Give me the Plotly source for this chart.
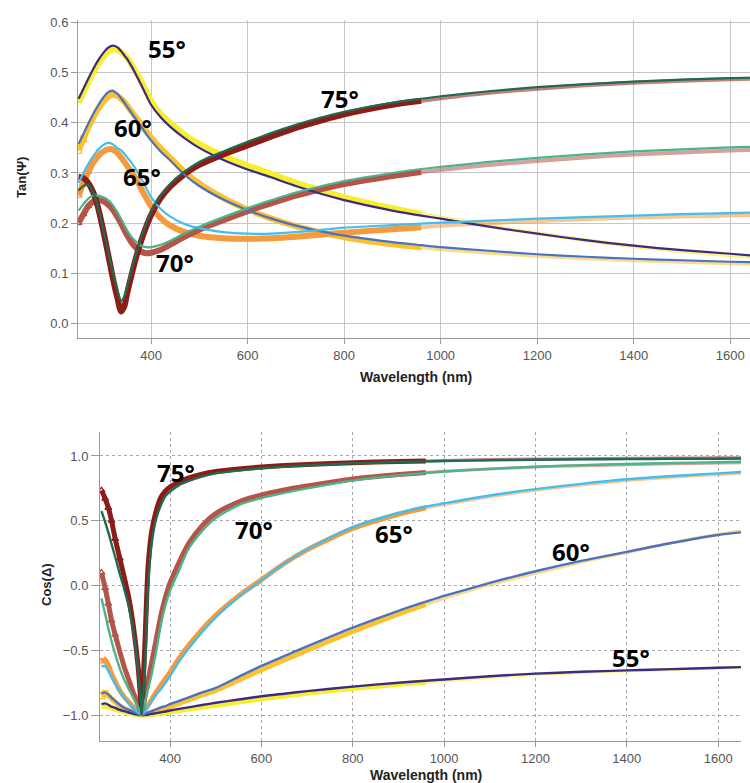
import plotly.graph_objects as go

# ---------------- data ----------------
WL_TAN = [250, 260, 270, 280, 290, 300, 310, 320, 330, 338, 345, 350, 360, 370, 380, 390, 400,
          420, 440, 470, 500, 550, 600, 650, 700, 750, 800, 900, 960, 1000, 1100, 1200, 1300,
          1400, 1500, 1600, 1650]

TAN_55_DATA = [0.440, 0.460, 0.480, 0.500, 0.516, 0.530, 0.541, 0.546, 0.546, 0.541, 0.535, 0.530,
               0.516, 0.500, 0.482, 0.463, 0.444, 0.418, 0.400, 0.376, 0.358, 0.334, 0.315, 0.298,
               0.281, 0.266, 0.252, 0.230, 0.219, 0.212, 0.195, 0.180, 0.166, 0.154, 0.144, 0.136, 0.133]
TAN_55_FIT = [0.448, 0.468, 0.488, 0.507, 0.524, 0.538, 0.549, 0.554, 0.551, 0.543, 0.534, 0.528,
              0.512, 0.494, 0.475, 0.455, 0.436, 0.411, 0.392, 0.369, 0.350, 0.326, 0.307, 0.291,
              0.274, 0.259, 0.246, 0.225, 0.215, 0.209, 0.193, 0.179, 0.166, 0.155, 0.146, 0.139, 0.135]
TAN_60_DATA = [0.345, 0.368, 0.390, 0.410, 0.427, 0.441, 0.451, 0.456, 0.454, 0.448, 0.441, 0.435,
               0.422, 0.409, 0.396, 0.383, 0.371, 0.349, 0.330, 0.302, 0.279, 0.250, 0.227, 0.209,
               0.194, 0.182, 0.172, 0.158, 0.152, 0.148, 0.141, 0.135, 0.130, 0.126, 0.123, 0.120, 0.119]
TAN_60_FIT = [0.358, 0.378, 0.398, 0.417, 0.434, 0.449, 0.460, 0.464, 0.458, 0.449, 0.440, 0.433,
              0.419, 0.405, 0.392, 0.378, 0.365, 0.343, 0.325, 0.296, 0.274, 0.247, 0.226, 0.209,
              0.195, 0.184, 0.175, 0.162, 0.156, 0.152, 0.145, 0.138, 0.133, 0.129, 0.126, 0.123, 0.122]
TAN_65_DATA = [0.255, 0.280, 0.302, 0.320, 0.333, 0.342, 0.347, 0.347, 0.340, 0.331, 0.322, 0.315,
               0.301, 0.286, 0.268, 0.250, 0.234, 0.210, 0.195, 0.182, 0.175, 0.170, 0.169, 0.170,
               0.173, 0.177, 0.181, 0.188, 0.192, 0.195, 0.200, 0.204, 0.208, 0.211, 0.213, 0.215, 0.216]
TAN_65_FIT = [0.280, 0.300, 0.318, 0.333, 0.346, 0.355, 0.360, 0.358, 0.350, 0.345, 0.338, 0.332,
              0.320, 0.305, 0.288, 0.270, 0.252, 0.228, 0.213, 0.198, 0.190, 0.182, 0.179, 0.179,
              0.182, 0.186, 0.191, 0.196, 0.199, 0.201, 0.205, 0.209, 0.212, 0.215, 0.218, 0.220, 0.221]
TAN_70_DATA = [0.200, 0.218, 0.234, 0.243, 0.246, 0.244, 0.238, 0.228, 0.213, 0.199, 0.186, 0.177,
               0.161, 0.150, 0.143, 0.140, 0.141, 0.147, 0.157, 0.173, 0.187, 0.206, 0.224, 0.240,
               0.255, 0.267, 0.278, 0.294, 0.302, 0.306, 0.316, 0.324, 0.331, 0.337, 0.341, 0.345, 0.346]
TAN_70_FIT = [0.225, 0.238, 0.249, 0.255, 0.255, 0.252, 0.247, 0.237, 0.222, 0.208, 0.195, 0.186,
              0.172, 0.162, 0.155, 0.152, 0.152, 0.157, 0.165, 0.180, 0.193, 0.212, 0.230, 0.246,
              0.261, 0.273, 0.284, 0.300, 0.308, 0.312, 0.322, 0.330, 0.337, 0.343, 0.347, 0.351, 0.352]
TAN_75_DATA = [0.292, 0.290, 0.280, 0.262, 0.232, 0.190, 0.143, 0.095, 0.052, 0.024, 0.035, 0.058,
               0.098, 0.135, 0.166, 0.193, 0.216, 0.250, 0.273, 0.298, 0.316, 0.337, 0.355, 0.373,
               0.390, 0.404, 0.417, 0.436, 0.444, 0.449, 0.460, 0.468, 0.475, 0.480, 0.484, 0.487, 0.488]
TAN_75_FIT = [0.265, 0.274, 0.276, 0.262, 0.232, 0.192, 0.148, 0.105, 0.068, 0.045, 0.055, 0.072,
              0.108, 0.143, 0.172, 0.199, 0.222, 0.255, 0.278, 0.303, 0.322, 0.343, 0.362, 0.380,
              0.396, 0.410, 0.422, 0.440, 0.448, 0.453, 0.463, 0.471, 0.477, 0.482, 0.486, 0.489, 0.490]

WL_COS = [250, 258, 265, 272, 280, 290, 300, 310, 320, 330, 338, 345, 352, 360, 370, 380, 390, 400,
          420, 440, 470, 500, 550, 600, 650, 700, 800, 900, 960, 1000, 1100, 1200, 1300, 1400,
          1500, 1600, 1650]

COS_55_DATA = [-0.935, -0.93, -0.935, -0.945, -0.955, -0.965, -0.975, -0.985, -0.992, -0.997, -1.0,
               -1.0, -0.998, -0.995, -0.99, -0.985, -0.98, -0.975, -0.965, -0.955, -0.94, -0.925,
               -0.90, -0.875, -0.853, -0.832, -0.795, -0.763, -0.747, -0.737, -0.71, -0.688, -0.672,
               -0.66, -0.648, -0.638, -0.632]
COS_55_FIT = [-0.915, -0.91, -0.92, -0.935, -0.945, -0.96, -0.97, -0.98, -0.99, -0.995, -1.0,
              -0.998, -0.995, -0.99, -0.985, -0.978, -0.972, -0.965, -0.952, -0.94, -0.922, -0.905,
              -0.88, -0.855, -0.835, -0.815, -0.78, -0.75, -0.735, -0.725, -0.70, -0.68, -0.666,
              -0.655, -0.645, -0.635, -0.63]
COS_60_DATA = [-0.85, -0.835, -0.85, -0.875, -0.90, -0.93, -0.95, -0.965, -0.98, -0.992, -1.0,
               -0.995, -0.99, -0.98, -0.97, -0.955, -0.945, -0.935, -0.91, -0.885, -0.845, -0.81,
               -0.73, -0.65, -0.575, -0.50, -0.355, -0.22, -0.145, -0.10, 0.005, 0.095, 0.18,
               0.255, 0.33, 0.395, 0.42]
COS_60_FIT = [-0.83, -0.825, -0.84, -0.865, -0.89, -0.92, -0.945, -0.96, -0.975, -0.99, -1.0,
              -0.99, -0.98, -0.97, -0.955, -0.94, -0.93, -0.915, -0.89, -0.865, -0.825, -0.79,
              -0.705, -0.62, -0.545, -0.47, -0.325, -0.195, -0.125, -0.08, 0.02, 0.11, 0.19,
              0.26, 0.33, 0.39, 0.41]
COS_65_DATA = [-0.585, -0.575, -0.62, -0.68, -0.74, -0.81, -0.86, -0.90, -0.94, -0.975, -1.0,
               -0.965, -0.925, -0.88, -0.82, -0.77, -0.72, -0.67, -0.56, -0.465, -0.34, -0.23,
               -0.08, 0.045, 0.17, 0.275, 0.44, 0.55, 0.60, 0.625, 0.685, 0.735, 0.776, 0.81,
               0.836, 0.857, 0.866]
COS_65_FIT = [-0.625, -0.62, -0.66, -0.71, -0.76, -0.82, -0.87, -0.91, -0.95, -0.98, -1.0,
              -0.97, -0.93, -0.89, -0.84, -0.80, -0.75, -0.70, -0.585, -0.49, -0.36, -0.245,
              -0.09, 0.04, 0.17, 0.28, 0.45, 0.56, 0.61, 0.635, 0.695, 0.744, 0.785, 0.82,
              0.845, 0.866, 0.876]
COS_70_DATA = [0.10, -0.02, -0.14, -0.27, -0.38, -0.51, -0.63, -0.73, -0.83, -0.92, -1.0,
               -0.86, -0.73, -0.59, -0.41, -0.23, -0.09, 0.02, 0.18, 0.32, 0.46, 0.555, 0.645,
               0.70, 0.738, 0.768, 0.822, 0.857, 0.873, 0.883, 0.900, 0.914, 0.925, 0.933,
               0.940, 0.945, 0.947]
COS_70_FIT = [-0.10, -0.22, -0.33, -0.43, -0.53, -0.64, -0.73, -0.80, -0.87, -0.94, -1.0,
              -0.90, -0.80, -0.68, -0.50, -0.30, -0.15, -0.04, 0.12, 0.28, 0.42, 0.52, 0.62,
              0.675, 0.715, 0.75, 0.81, 0.85, 0.868, 0.88, 0.90, 0.917, 0.929, 0.938, 0.946,
              0.952, 0.955]
COS_75_DATA = [0.735, 0.67, 0.60, 0.50, 0.36, 0.21, 0.06, -0.10, -0.32, -0.62, -1.0, -0.45,
               0.15, 0.42, 0.58, 0.68, 0.73, 0.76, 0.80, 0.83, 0.86, 0.88, 0.90, 0.915, 0.926,
               0.934, 0.948, 0.958, 0.962, 0.965, 0.972, 0.976, 0.979, 0.982, 0.984, 0.986, 0.987]
COS_75_FIT = [0.575, 0.49, 0.41, 0.32, 0.22, 0.09, -0.03, -0.17, -0.36, -0.65, -1.0, -0.65,
              0.0, 0.33, 0.52, 0.62, 0.69, 0.725, 0.775, 0.805, 0.84, 0.866, 0.888, 0.905,
              0.918, 0.928, 0.943, 0.953, 0.958, 0.961, 0.967, 0.971, 0.974, 0.976, 0.978,
              0.979, 0.980]

ANGLES = ["55°", "60°", "65°", "70°", "75°"]
TAN_LABEL_POS = [(433, 0.549), (363, 0.391), (381, 0.292), (450, 0.121), (792, 0.449)]
COS_LABEL_POS = [(1409, -0.552), (1278, 0.259), (891, 0.405), (584, 0.429), (413, 0.876)]

X_TICKS = [400, 600, 800, 1000, 1200, 1400, 1600]
TAN_TICKS = [0.0, 0.1, 0.2, 0.3, 0.4, 0.5, 0.6]
COS_TICKS = [-1.0, -0.5, 0.0, 0.5, 1.0]

SPLIT_WL = 960      # detector change: data lighter beyond this wavelength
CUSP_WL = 338       # all Cos(Δ) curves meet at -1 here
# number of leading points of measured data drawn with open markers (per angle)
TAN_MARKED = [0, 2, 3, 4, 0]
COS_MARKED = [0, 2, 3, 5, 6]

# ---------------- styles ----------------
DATA_COLORS = ["#F8EE30", "#FBC12E", "#F59B3D", "#B4554A", "#8C1C18"]
FIT_COLORS = ["#3C2A84", "#4A72C2", "#45BDEE", "#4CB38A", "#1F6A50"]
MARKER_SYMBOLS = ["square-open", "square-open", "triangle-up-open", "triangle-up-open",
                  "triangle-up-open"]

fig = go.Figure()


def seg(xa, ya, x, y, color, width, opacity=1.0):
    fig.add_trace(go.Scatter(x=x, y=y, mode="lines", xaxis=xa, yaxis=ya, opacity=opacity,
                             line=dict(color=color, width=width, shape="spline", smoothing=0.7),
                             showlegend=False, hoverinfo="skip"))


def add_set(wl, data_list, fit_list, xa, ya, dw, fw, cut, marked):
    k = wl.index(SPLIT_WL)
    breaks = [0] + ([wl.index(cut)] if cut else []) + [k]
    for d, c, nm, sym in zip(data_list, DATA_COLORS, marked, MARKER_SYMBOLS):
        for a, b in zip(breaks[:-1], breaks[1:]):
            seg(xa, ya, wl[a:b + 1], d[a:b + 1], c, dw)
        seg(xa, ya, wl[k:], d[k:], c, dw - 2, 0.55)
        if nm:
            fig.add_trace(go.Scatter(x=wl[:nm], y=d[:nm], mode="markers", xaxis=xa, yaxis=ya,
                                     marker=dict(symbol=sym, size=6, color=c,
                                                 line=dict(width=1.2, color=c)),
                                     showlegend=False, hoverinfo="skip"))
    fb = [0] + ([wl.index(cut)] if cut else []) + [len(wl) - 1]
    for f, c in zip(fit_list, FIT_COLORS):
        for a, b in zip(fb[:-1], fb[1:]):
            seg(xa, ya, wl[a:b + 1], f[a:b + 1], c, fw)


add_set(WL_TAN, [TAN_55_DATA, TAN_60_DATA, TAN_65_DATA, TAN_70_DATA, TAN_75_DATA],
        [TAN_55_FIT, TAN_60_FIT, TAN_65_FIT, TAN_70_FIT, TAN_75_FIT], "x", "y", 6, 2.2,
        None, TAN_MARKED)
add_set(WL_COS, [COS_55_DATA, COS_60_DATA, COS_65_DATA, COS_70_DATA, COS_75_DATA],
        [COS_55_FIT, COS_60_FIT, COS_65_FIT, COS_70_FIT, COS_75_FIT], "x2", "y2", 5, 2.4,
        CUSP_WL, COS_MARKED)

W, H = 750, 783
tick_font = dict(family="Liberation Sans, Arial, sans-serif", size=13, color="#555555")
common = dict(automargin=False, zeroline=False, showline=True, linecolor="#9a9a9a",
              linewidth=1, ticks="outside", tickcolor="#9a9a9a", tickfont=tick_font,
              showgrid=True, gridwidth=1)

fig.update_layout(
    width=W, height=H, margin=dict(l=0, r=0, t=0, b=0, autoexpand=False),
    paper_bgcolor="white", plot_bgcolor="white", showlegend=False,
    xaxis=dict(common, domain=[78 / W, 1.0], range=[248.7, 1641], tickvals=X_TICKS,
               gridcolor="#c6c6c6", ticklen=5, anchor="y"),
    yaxis=dict(common, domain=[1 - 338 / H, 1 - 20 / H], range=[-0.029, 0.605],
               tickvals=TAN_TICKS, tickformat=".1f", gridcolor="#c6c6c6", ticklen=6,
               anchor="x"),
    xaxis2=dict(common, domain=[100 / W, 741 / W], range=[246.7, 1650], tickvals=X_TICKS,
                gridcolor="#a8a8a8", griddash="dot", ticklen=5, anchor="y2"),
    yaxis2=dict(common, domain=[1 - 741 / H, 1 - 432 / H], range=[-1.2, 1.185],
                tickvals=COS_TICKS, tickformat=".1f", gridcolor="#a8a8a8", griddash="dot",
                ticklen=8, anchor="x2"),
)

title_font = dict(family="Liberation Sans, Arial, sans-serif", size=14, color="#222222")
ann = [
    dict(text="<b>Wavelength (nm)</b>", x=416 / W, y=1 - 377 / H, xref="paper", yref="paper",
         showarrow=False, font=title_font, xanchor="center", yanchor="middle"),
    dict(text="<b>Wavelength (nm)</b>", x=426 / W, y=1 - 775 / H, xref="paper", yref="paper",
         showarrow=False, font=title_font, xanchor="center", yanchor="middle"),
    dict(text="<b>Tan(Ψ)</b>", x=21 / W, y=1 - 178 / H, xref="paper", yref="paper",
         showarrow=False, font=dict(title_font, size=13), textangle=-90,
         xanchor="center", yanchor="middle"),
    dict(text="<b>Cos(Δ)</b>", x=46 / W, y=1 - 585 / H, xref="paper", yref="paper",
         showarrow=False, font=dict(title_font, size=13), textangle=-90,
         xanchor="center", yanchor="middle"),
]
label_font = dict(family="Open Sans, Noto Sans, sans-serif", size=24, color="black")
for name, (px, py) in zip(ANGLES, TAN_LABEL_POS):
    ann.append(dict(text="<b>%s</b>" % name, x=px, y=py, xref="x", yref="y", showarrow=False,
                    font=label_font, xanchor="center", yanchor="middle"))
for name, (px, py) in zip(ANGLES, COS_LABEL_POS):
    ann.append(dict(text="<b>%s</b>" % name, x=px, y=py, xref="x2", yref="y2", showarrow=False,
                    font=label_font, xanchor="center", yanchor="middle"))
fig.update_layout(annotations=ann)

# remove the browser's default 8px page margin so the figure sits at the window origin
fig.write_html("out.html", config={"displayModeBar": False},
               post_script="document.body.style.margin='0';document.body.style.overflow='hidden';")
